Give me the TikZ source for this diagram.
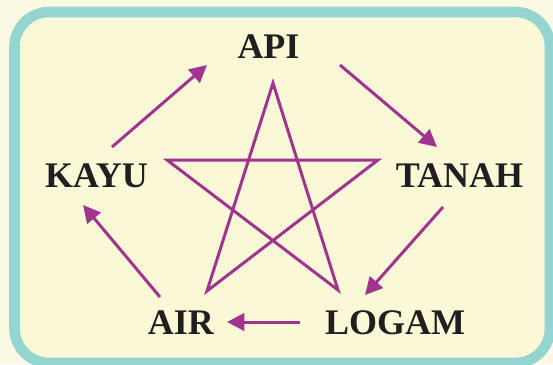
\documentclass[tikz,border=0pt]{standalone}
\usepackage{fontspec}
\setmainfont{Liberation Serif}
\usepackage{tikz}
\usetikzlibrary{arrows.meta}
\definecolor{bgpaper}{RGB}{251,249,228}
\definecolor{bginner}{RGB}{250,248,214}
\definecolor{frameteal}{RGB}{148,212,209}
\definecolor{wuxing}{RGB}{160,52,142}
\tikzset{>={Triangle[length=13pt,width=13pt]}}

\begin{document}
\begin{tikzpicture}[x=0.75pt,y=-0.75pt,
	unsur/.style={font=\bfseries\fontsize{27}{27}\selectfont,text=black!88,inner sep=0pt},
	siklus/.style={->,draw=wuxing,line width=2.25pt},
	bintang/.style={draw=wuxing,line width=2.25pt,line join=miter}]
	\useasboundingbox[fill=bgpaper] (0,0) rectangle (553,364);
	\draw[frameteal,fill=bginner,line width=7.9pt,rounded corners=26pt] (14.5,12) rectangle (550,363);
	% lima unsur
	\node[unsur] (api) at (268.5,47) {API};
	\node[unsur] (tanah) at (459.5,176) {TANAH};
	\node[unsur] (logam) at (395,323) {LOGAM};
	\node[unsur] (air) at (181,323) {AIR};
	\node[unsur] (kayu) at (96.5,176) {KAYU};
	% bintang di tengah
	\draw[bintang] (273,83) -- (207,291) -- (378,160) -- (167,160) -- (338,290) -- cycle;
	% siklus
	\draw[siklus] ([shift={(15.5,-29)}]kayu.center) -- ([shift={(-61.5,18)}]api.center);
	\draw[siklus] ([shift={(71.5,18)}]api.center) -- ([shift={(-22.5,-29)}]tanah.center);
	\draw[siklus] ([shift={(-16.5,31)}]tanah.center) -- ([shift={(-30,-28)}]logam.center);
	\draw[siklus] ([shift={(-95,-1)}]logam.center) -- ([shift={(46,-1)}]air.center);
	\draw[siklus] ([shift={(-21,-26)}]air.center) -- ([shift={(-13.5,29)}]kayu.center);
\end{tikzpicture}
\end{document}
